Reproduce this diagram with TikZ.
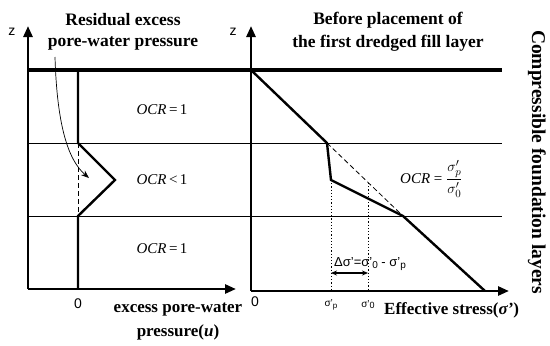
\documentclass[tikz,border=0pt]{standalone}
\usepackage{amsmath}
\usepackage{fontspec}
\setmainfont{Liberation Serif}
\setsansfont{Liberation Sans}
\usetikzlibrary{arrows.meta}
\begin{document}
\begin{tikzpicture}[x=1pt,y=-1pt,
  axisln/.style={line width=2.6pt,-{Stealth[length=11pt,width=9pt,inset=0pt]}},
  curve/.style={line width=2.4pt,line join=miter},
  thinln/.style={line width=0.8pt},
  dashln/.style={line width=0.8pt,dash pattern=on 5pt off 3pt},
  dotln/.style={line width=0.9pt,dash pattern=on 1.2pt off 2pt},
  title/.style={font=\fontsize{17.5}{19}\selectfont\bfseries,align=center,inner sep=0pt},
  axlab/.style={font=\fontsize{17}{19}\selectfont\bfseries,inner sep=0pt},
  sanslab/.style={font=\sffamily\fontsize{14}{16}\selectfont,inner sep=0pt},
  small/.style={font=\sffamily\fontsize{10}{12}\selectfont,inner sep=0pt},
  ocr/.style={font=\fontsize{15}{17}\selectfont,inner sep=0pt}]
\useasboundingbox (0,0) rectangle (550,346);
% coordinates
\coordinate (LO) at (28,289);
\coordinate (LT) at (28,26);
\coordinate (LX) at (236,289);
\coordinate (RO) at (251,291);
\coordinate (RT) at (251,26);
\coordinate (RX) at (509,291);
\coordinate (topL) at (28,70);
\coordinate (topR) at (502,70);
\coordinate (m1L) at (28,143);
\coordinate (m1R) at (502,143);
\coordinate (m2L) at (28,216);
\coordinate (m2R) at (502,216);
% left curve
\coordinate (u0) at (78,70);
\coordinate (u1) at (78,143);
\coordinate (u2) at (115,180);
\coordinate (u3) at (78,216);
\coordinate (u4) at (78,289);
% right curve
\coordinate (s0) at (251,70);
\coordinate (s1) at (327,143);
\coordinate (s2) at (331,180);
\coordinate (s3) at (403,216);
\coordinate (s4) at (485,291);
\coordinate (dp) at (331,291);
\coordinate (d0t) at (368,183);
\coordinate (d0) at (368,291);
\coordinate (aL) at (331,273);
\coordinate (aR) at (368,273);
\coordinate (cs) at (55,57);
\coordinate (ce) at (89,178);
% thin layer lines
\draw[thinln] (m1L) -- (m1R);
\draw[thinln] (m2L) -- (m2R);
% dashed
\draw[dashln] (u1) -- (u3);
\draw[dashln] (s1) -- (s3);
\draw[dotln] (s2) -- (dp);
\draw[dotln] (d0t) -- (d0);
% axes
\draw[axisln] (LO) -- (LT);
\draw[axisln] (LO) -- (LX);
\draw[axisln] (RO) -- (RT);
\draw[axisln] (RO) -- (RX);
\draw[line width=4pt] (topL) -- (topR);
% curves
\draw[curve] (u0) -- (u1) -- (u2) -- (u3) -- (u4);
\draw[curve] (s0) -- (s1) -- (s2) -- (s3) -- (s4);
% curved arrow
\draw[line width=0.7pt,-{Stealth[length=8pt,width=6pt]}] (cs) .. controls (57,125) and (68,160) .. (ce);
% double arrow
\draw[line width=1.2pt,{Stealth[length=6pt,width=5pt]}-{Stealth[length=6pt,width=5pt]}] (aL) -- (aR);
% texts
\node[title] (t1a) at (123,20) {Residual excess};
\node[title] (t1b) at (123,43) {pore-water pressure};
\node[title] (t2a) at (388,20) {Before placement of};
\node[title] (t2b) at (388,43) {the first dredged fill layer};
\node[sanslab] (z1) at (12,32) {z};
\node[sanslab] (z2) at (233,32) {z};
\node[ocr] (o1) at (162,110) {\itshape OCR\upshape\,=\,1};
\node[ocr] (o2) at (162,180) {\itshape OCR\upshape\,<\,1};
\node[ocr] (o3) at (162,249) {\itshape OCR\upshape\,=\,1};
\node[ocr,anchor=west] (o4) at (400,179) {\itshape OCR\upshape\ =\ $\dfrac{\sigma'_p}{\sigma'_0}$};
\node[sanslab] (zero1) at (78,304) {0};
\node[sanslab] (zero2) at (255,302) {0};
\node[axlab] (xl1) at (178,310) {excess pore-water};
\node[axlab] (xl2) at (178,332) {pressure(\textit{u})};
\node[small] (sp) at (331,305) {σ'\raisebox{-0.4ex}{\fontsize{8}{9}\selectfont p}};
\node[small] (s0l) at (368,305) {σ'\raisebox{-0.2ex}{\fontsize{9}{9}\selectfont 0}};
\node[axlab,anchor=west] (xr) at (384,310) {Effective stress(\textit{σ'})};
\node[font=\sffamily\fontsize{13}{15}\selectfont,inner sep=0pt,anchor=west] (dl) at (334,264) {Δσ'=σ'\raisebox{-0.4ex}{\fontsize{10}{10}\selectfont 0} - σ'\raisebox{-0.4ex}{\fontsize{10}{10}\selectfont p}};
\node[font=\fontsize{19.5}{21}\selectfont\bfseries,rotate=-90,inner sep=0pt] (cf) at (537,162) {Compressible foundation layers};
\end{tikzpicture}
\end{document}
